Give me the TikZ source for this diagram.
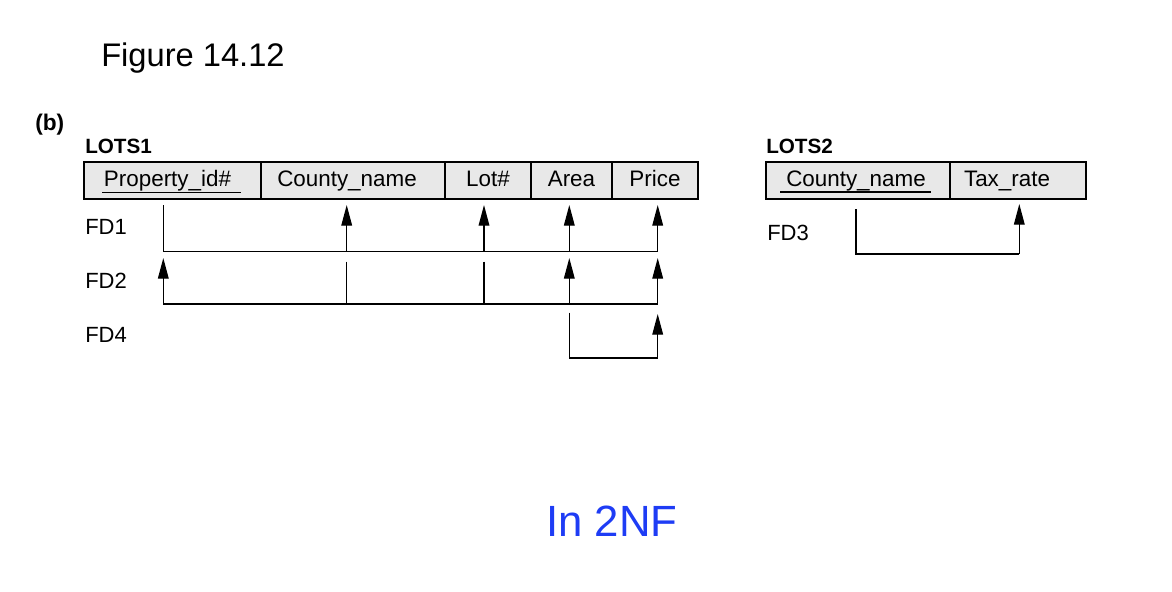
\documentclass[tikz,border=0pt]{standalone}
\usepackage{fontspec}
\setmainfont{Liberation Sans}
\usetikzlibrary{arrows.meta,calc}
\definecolor{tblfill}{RGB}{232,232,232}
\definecolor{noteblue}{RGB}{30,60,245}
\tikzset{
  cell/.style={draw, fill=tblfill, line width=1.1pt, inner sep=0pt,
    text height=18.4pt, text depth=9.35pt, anchor=center,
    font=\fontsize{16.8}{19}\selectfont},
  lbl/.style={anchor=base west, inner sep=0pt, font=\fontsize{16.5}{19}\selectfont},
  relname/.style={anchor=base west, inner sep=0pt, font=\bfseries\fontsize{15.5}{18}\selectfont},
  fdline/.style={line width=1pt},
  fdarrow/.style={line width=1pt, -{Triangle[length=15.5pt,width=8pt]}},
  keyline/.style={line width=1pt}
}
\begin{document}
\begin{tikzpicture}[x=0.75pt,y=-0.75pt]
\useasboundingbox (0,0) rectangle (1172,592);

\node[anchor=base west, inner sep=0pt, font=\fontsize{24.5}{29}\selectfont] (title) at (101,67) {Figure 14.12};
\node[anchor=base west, inner sep=0pt, font=\bfseries\fontsize{17}{20}\selectfont] (partb) at (35,130.7) {(b)};
\node[relname] (lots1) at (85,153.3) {LOTS1};
\node[relname] (lots2) at (766,153.3) {LOTS2};

% LOTS1 cells
\node[cell, minimum width=132.75pt] (prop) at (172.5,180.5) {Property\_id\#\hspace*{7.5pt}};
\node[cell, minimum width=138pt] (county) at (353,180.5) {County\_name\hspace*{9pt}};
\node[cell, minimum width=64.5pt] (lot) at (488,180.5) {Lot\#};
\node[cell, minimum width=60.75pt] (area) at (571.5,180.5) {Area};
\node[cell, minimum width=64.5pt] (price) at (655,180.5) {Price};

% LOTS2 cells
\node[cell, minimum width=138pt] (cn2) at (858,180.5) {County\_name\hspace*{3pt}};
\node[cell, minimum width=102pt] (tax) at (1018,180.5) {Tax\_rate\hspace*{16.5pt}};

% key underlines
\draw[keyline] ($(prop.west)+(19,12.2)$) -- ($(prop.west)+(157.7,12.2)$);
\draw[keyline] ($(cn2.west)+(15,11.5)$) -- ($(cn2.west)+(166,11.5)$);

% FD labels
\node[lbl] (fd1) at (85,234) {FD1};
\node[lbl] (fd2) at (85,288.3) {FD2};
\node[lbl] (fd4) at (85,342.7) {FD4};
\node[lbl] (fd3) at (767,240) {FD3};

% column coordinates
\coordinate (xP) at ($(prop.south)+(-9.2,0)$);
\coordinate (xC) at ($(county.south)+(-6.3,0)$);
\coordinate (xL) at ($(lot.south)+(-4,0)$);
\coordinate (xA) at ($(area.south)+(-2.2,0)$);
\coordinate (xR) at ($(price.south)+(2.7,0)$);
\coordinate (xC2) at ($(cn2.south)+(-2,0)$);
\coordinate (xT) at ($(tax.south)+(1.3,0)$);

% levels
\coordinate (y1t) at (0,205);
\coordinate (y1h) at (0,251.7);
\coordinate (y2s) at (0,261.7);
\coordinate (y2t) at (0,258);
\coordinate (y2h) at (0,304);
\coordinate (y4s) at (0,312.7);
\coordinate (y4t) at (0,314);
\coordinate (y4h) at (0,358);
\coordinate (y3s) at (0,209);
\coordinate (y3t) at (0,204);
\coordinate (y3h) at (0,254);

% FD1: Property_id# -> County_name, Lot#, Area, Price
\draw[fdline] (xP |- y1t) -- (xP |- y1h) -- (xR |- y1h);
\draw[fdarrow] (xC |- y1h) -- (xC |- y1t);
\draw[fdarrow] (xL |- y1h) -- (xL |- y1t);
\draw[fdarrow] (xA |- y1h) -- (xA |- y1t);
\draw[fdarrow] (xR |- y1h) -- (xR |- y1t);

% FD2: County_name, Lot# -> Property_id#, Area, Price
\draw[fdline] (xC |- y2s) -- (xC |- y2h);
\draw[fdline] (xL |- y2s) -- (xL |- y2h);
\draw[fdline] (xP |- y2h) -- (xR |- y2h);
\draw[fdarrow] (xP |- y2h) -- (xP |- y2t);
\draw[fdarrow] (xA |- y2h) -- (xA |- y2t);
\draw[fdarrow] (xR |- y2h) -- (xR |- y2t);

% FD4: Area -> Price
\draw[fdline] (xA |- y4s) -- (xA |- y4h) -- (xR |- y4h);
\draw[fdarrow] (xR |- y4h) -- (xR |- y4t);

% FD3: County_name -> Tax_rate
\draw[fdline] (xC2 |- y3s) -- (xC2 |- y3h) -- (xT |- y3h);
\draw[fdarrow] (xT |- y3h) -- (xT |- y3t);

\node[anchor=base west, inner sep=0pt, text=noteblue, font=\fontsize{32.8}{39}\selectfont] (note) at (546,536.7) {In 2NF};
\end{tikzpicture}
\end{document}
